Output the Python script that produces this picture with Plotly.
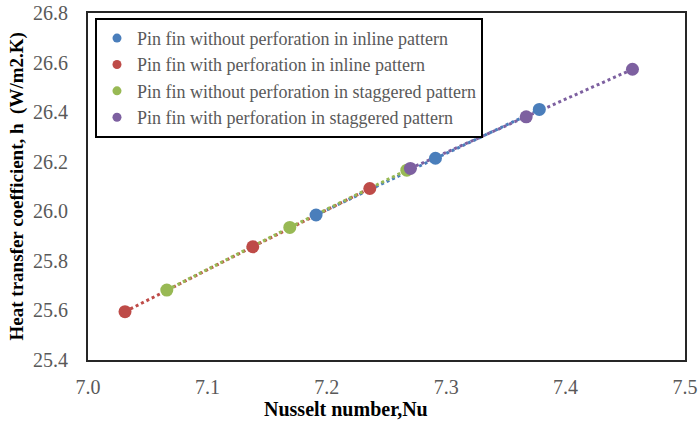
import plotly.graph_objects as go

names = [
    "Pin fin without perforation in inline pattern",
    "Pin fin with perforation in inline pattern",
    "Pin fin without perforation in staggered pattern",
    "Pin fin with perforation in staggered pattern",
]
colors = ["#4a7ebb", "#be4b48", "#98b954", "#7d60a0"]

nu_blue = [7.191, 7.291, 7.378]
h_blue = [25.985, 26.214, 26.411]
nu_red = [7.031, 7.138, 7.236]
h_red = [25.595, 25.857, 26.092]
nu_green = [7.066, 7.169, 7.267]
h_green = [25.682, 25.935, 26.166]
nu_purple = [7.270, 7.367, 7.456]
h_purple = [26.173, 26.381, 26.573]

x_title = "<b>Nusselt number,Nu</b>"
y_title = "<b>Heat transfer coefficient, h  (W/m2.K)</b>"

xs = [nu_blue, nu_red, nu_green, nu_purple]
ys = [h_blue, h_red, h_green, h_purple]

fig = go.Figure()
for x, y, c in zip(xs, ys, colors):
    fig.add_trace(go.Scatter(x=x, y=y, mode="lines", showlegend=False,
                             line=dict(color=c, width=3, dash="dot"), hoverinfo="skip"))
for x, y, c in zip(xs, ys, colors):
    fig.add_trace(go.Scatter(x=x, y=y, mode="markers", showlegend=False,
                             marker=dict(color=c, size=13)))
# legend entries (smaller symbols, as in the reference legend)
for c, n in zip(colors, names):
    fig.add_trace(go.Scatter(x=[None], y=[None], mode="markers", name=n,
                             marker=dict(color=c, size=9)))

serif = "Liberation Serif"
tick_font = dict(family=serif, size=20, color="#595959")
fig.update_layout(
    width=699, height=421,
    margin=dict(l=88, r=14, t=13, b=61),
    plot_bgcolor="white", paper_bgcolor="white",
    font=dict(family=serif, size=20, color="#595959"),
    legend=dict(x=0.0117, y=0.986, xanchor="left", yanchor="top",
                bordercolor="black", borderwidth=2, bgcolor="white",
                font=dict(family=serif, size=18, color="#595959"),
                tracegroupgap=0, itemwidth=30),
    xaxis=dict(range=[7.0, 7.5], dtick=0.1, tickformat=".1f", showgrid=False,
               showline=True, linecolor="#262626", linewidth=2, mirror=True,
               ticks="", zeroline=False, ticklabelstandoff=8, automargin=False,
               tickfont=tick_font),
    yaxis=dict(range=[25.4, 26.8], dtick=0.2, tickformat=".1f", showgrid=False,
               showline=True, linecolor="#262626", linewidth=2, mirror=True,
               ticks="", zeroline=False, ticklabelstandoff=14, automargin=False,
               tickfont=tick_font),
    annotations=[
        dict(text=x_title, xref="paper", yref="paper", x=0.432, y=-0.141,
             xanchor="center", yanchor="middle", showarrow=False,
             font=dict(family=serif, size=20, color="black")),
        dict(text=y_title, xref="paper", yref="paper", x=-0.119, y=0.5,
             xanchor="center", yanchor="middle", showarrow=False, textangle=-90,
             font=dict(family=serif, size=19, color="black")),
    ],
)

fig.write_html("out.html")
